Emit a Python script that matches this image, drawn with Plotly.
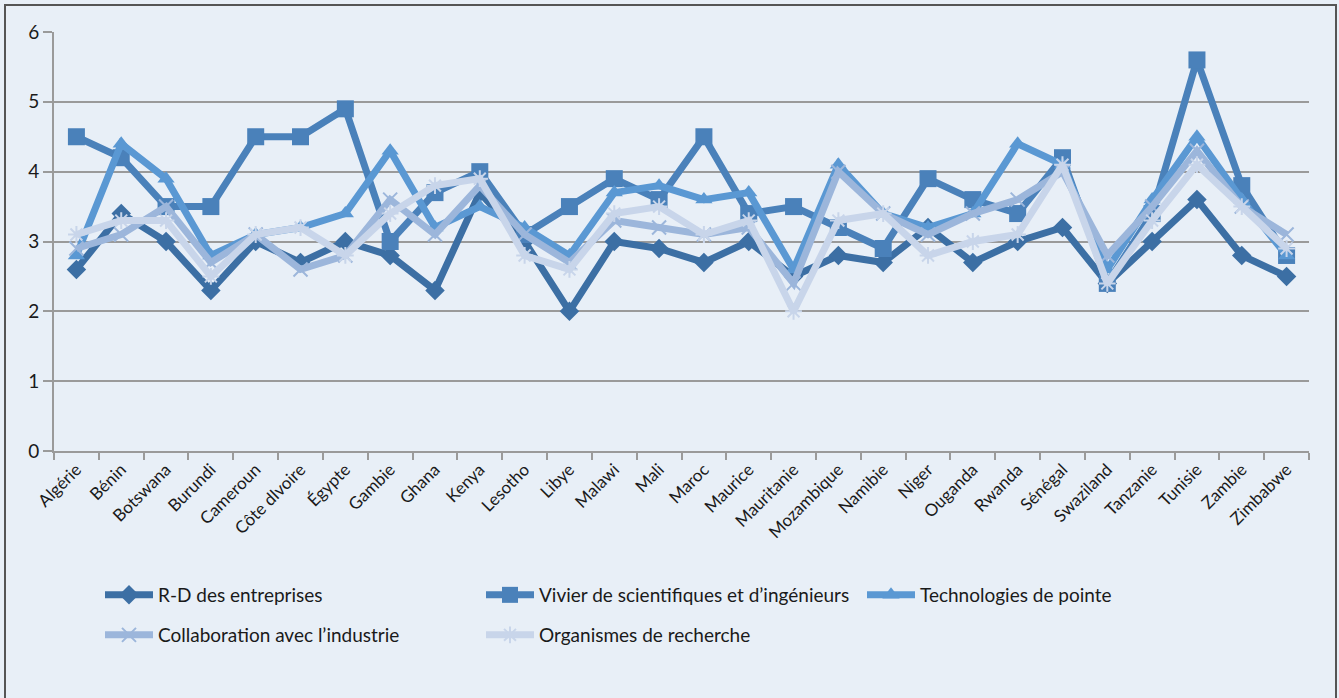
import plotly.graph_objects as go

countries = ["Algérie", "Bénin", "Botswana", "Burundi", "Cameroun", "Côte dIvoire", "Égypte",
             "Gambie", "Ghana", "Kenya", "Lesotho", "Libye", "Malawi", "Mali", "Maroc", "Maurice",
             "Mauritanie", "Mozambique", "Namibie", "Niger", "Ouganda", "Rwanda", "Sénégal",
             "Swaziland", "Tanzanie", "Tunisie", "Zambie", "Zimbabwe"]

rd_entreprises = [2.6, 3.4, 3.0, 2.3, 3.0, 2.7, 3.0, 2.8, 2.3, 3.7, 3.0, 2.0, 3.0, 2.9, 2.7, 3.0,
                  2.5, 2.8, 2.7, 3.2, 2.7, 3.0, 3.2, 2.4, 3.0, 3.6, 2.8, 2.5]
vivier = [4.5, 4.2, 3.5, 3.5, 4.5, 4.5, 4.9, 3.0, 3.7, 4.0, 3.1, 3.5, 3.9, 3.6, 4.5, 3.4,
          3.5, 3.2, 2.9, 3.9, 3.6, 3.4, 4.2, 2.4, 3.4, 5.6, 3.8, 2.8]
technologies = [2.8, 4.4, 3.9, 2.8, 3.1, 3.2, 3.4, 4.3, 3.2, 3.5, 3.2, 2.8, 3.7, 3.8, 3.6, 3.7,
                2.6, 4.1, 3.4, 3.2, 3.4, 4.4, 4.1, 2.6, 3.6, 4.5, 3.6, 2.8]
collaboration = [2.9, 3.1, 3.5, 2.7, 3.1, 2.6, 2.8, 3.6, 3.1, 3.8, 3.1, 2.7, 3.3, 3.2, 3.1, 3.2,
                 2.4, 4.0, 3.4, 3.1, 3.4, 3.6, 4.0, 2.8, 3.5, 4.3, 3.5, 3.1]
organismes = [3.1, 3.3, 3.3, 2.5, 3.1, 3.2, 2.8, 3.4, 3.8, 3.9, 2.8, 2.6, 3.4, 3.5, 3.1, 3.3,
              2.0, 3.3, 3.4, 2.8, 3.0, 3.1, 4.1, 2.4, 3.3, 4.1, 3.5, 2.9]

series_names = ["R-D des entreprises", "Vivier de scientifiques et d’ingénieurs",
                "Technologies de pointe", "Collaboration avec l’industrie",
                "Organismes de recherche"]
series_values = [rd_entreprises, vivier, technologies, collaboration, organismes]
colors = ["#3c6fa4", "#4a81ba", "#5a98d3", "#9cb6db", "#c8d5ea"]
symbols = ["diamond", "square", "triangle-up", "x-thin-open", "asterisk-open"]
msizes = [15, 17, 15, 14, 14]
legend_ids = ["legend", "legend", "legend", "legend2", "legend2"]

W, H = 1339, 698
ML, MR, MT, MB = 54, 30, 32, 247
PW = W - ML - MR
PH = H - MT - MB

FONT = "Lato, 'Open Sans', sans-serif"

fig = go.Figure()
for name, vals, col, sym, ms, lg in zip(series_names, series_values, colors, symbols, msizes, legend_ids):
    mk = dict(symbol=sym, size=ms, color=col)
    if sym.endswith("open"):
        mk["line"] = dict(color=col, width=2)
    fig.add_trace(go.Scatter(
        x=countries, y=vals, name=name, mode="lines+markers",
        line=dict(color=col, width=7),
        marker=mk, legend=lg,
    ))

def px_x(p):
    return (p - ML) / PW

def px_y(p):
    return (H - MB - p) / PH

legend_common = dict(
    orientation="h", xanchor="left", yanchor="top",
    entrywidth=318, entrywidthmode="pixels",
    font=dict(family=FONT, size=19, color="#1a1a1a"),
    bgcolor="rgba(0,0,0,0)", itemwidth=48,
)

fig.update_layout(
    width=W, height=H,
    margin=dict(l=ML, r=MR, t=MT, b=MB),
    paper_bgcolor="#e8eff7",
    plot_bgcolor="#e8eff7",
    font=dict(family=FONT, size=17, color="#1a1a1a"),
    showlegend=True,
    legend=dict(x=px_x(100), y=px_y(576), **legend_common),
    legend2=dict(x=px_x(100), y=px_y(616), **legend_common),
    xaxis=dict(
        type="category", tickangle=-45, showgrid=False,
        showline=True, linecolor="#9a9a9a", linewidth=2,
        ticks="outside", tickson="boundaries", ticklen=7, tickcolor="#9a9a9a", tickwidth=2,
        tickfont=dict(family=FONT, size=17, color="#1a1a1a"),
        range=[-0.5, len(countries) - 0.5],
    ),
    yaxis=dict(
        range=[0, 6], dtick=1, showgrid=True, gridcolor="#9a9a9a", gridwidth=2,
        showline=True, linecolor="#9a9a9a", linewidth=2, zeroline=False,
        ticks="outside", ticklen=9, tickcolor="#9a9a9a", tickwidth=2,
        tickfont=dict(family=FONT, size=19, color="#1a1a1a"),
    ),
    shapes=[dict(type="rect", xref="paper", yref="paper",
                 x0=px_x(5), x1=px_x(1336), y0=px_y(704), y1=px_y(5),
                 line=dict(color="#555555", width=2), fillcolor="rgba(0,0,0,0)", layer="below")],
)

fig.write_html("out.html")
